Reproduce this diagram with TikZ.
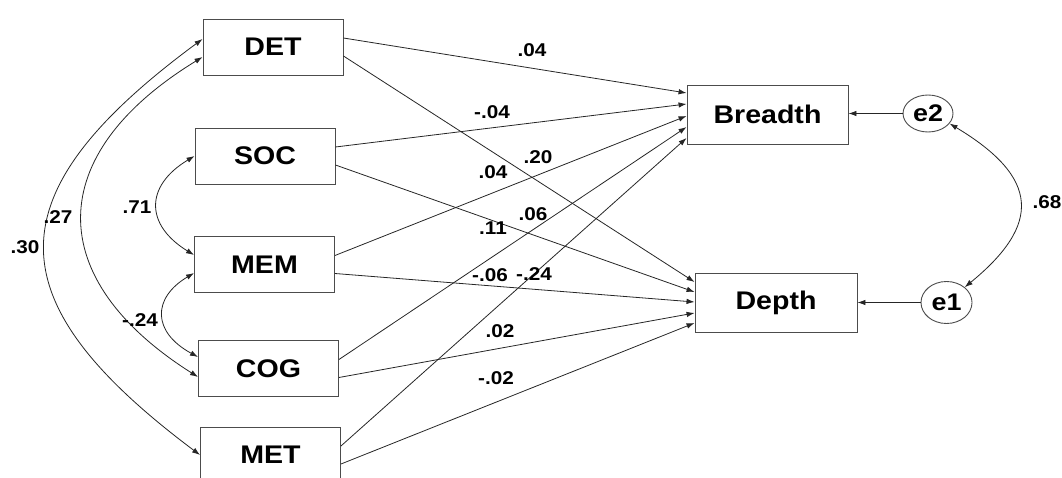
\documentclass[tikz,border=0pt]{standalone}
\usepackage{fontspec}
\setmainfont{Liberation Sans}[FakeStretch=1.12]
\usetikzlibrary{arrows.meta,shapes.geometric}

\tikzset{
  var/.style={draw=black!70,line width=0.9pt,minimum width=140,minimum height=56,inner sep=0pt,
    font=\fontsize{25.5}{28}\selectfont\bfseries},
  err/.style={draw=black!70,line width=0.9pt,ellipse,inner sep=0pt,
    font=\fontsize{24}{26}\selectfont\bfseries},
  reg/.style={draw=black!85,line width=0.8pt,-{Latex[length=8pt,width=5.5pt]}},
  cov/.style={draw=black!85,line width=0.8pt,{Latex[length=8pt,width=5.5pt]}-{Latex[length=8pt,width=5.5pt]}},
  coef/.style={font=\fontsize{18.5}{20}\selectfont\bfseries,inner sep=1pt}
}

\begin{document}
\begin{tikzpicture}[x=1pt,y=-1pt]
  \useasboundingbox (0,0) rectangle (1062,478);
  % predictors
  \node[var] (det) at (273,47) {DET};
  \node[var] (soc) at (265,156) {SOC};
  \node[var] (mem) at (264.5,264.5) {MEM};
  \node[var] (cog) at (268.5,368.5) {COG};
  \node[var] (met) at (270.5,455) {MET};
  % outcomes and errors
  \node[var,minimum width=161,minimum height=59] (breadth) at (767.5,114.5) {Breadth};
  \node[var,minimum width=162,minimum height=59] (depth) at (776,302.5) {Depth};
  \node[err,minimum width=50,minimum height=37] (e2) at (928,113.5) {e2};
  \node[err,minimum width=51,minimum height=42] (e1) at (946.5,302.5) {e1};

  % paths
  \foreach \v/\b/\d in {det/21.5/20.5, soc/10.5/10.5, mem/-1.5/0.5, cog/-12.5/-10.5, met/-23.5/-20.5}{
    \draw[reg] ([yshift=9pt]\v.east) -- ([yshift=\b pt]breadth.west);
    \draw[reg] ([yshift=-9pt]\v.east) -- ([yshift=\d pt]depth.west);
  }
  \draw[reg] (e2.west) -- (e2.west -| breadth.east);
  \draw[reg] (e1.west) -- (e1.west -| depth.east);

  % correlations
  \draw[cov] ([yshift=8pt]det.west) .. controls +(-210,155) and +(-207,-155) .. (met.west);
  \draw[cov] ([yshift=-10pt]det.west) .. controls +(-160,98) and +(-155,-98) .. ([yshift=-8.5pt]cog.west);
  \draw[cov] (soc.west) .. controls +(-50,30) and +(-49,-30) .. ([yshift=9.5pt]mem.west);
  \draw[cov] ([yshift=-8.5pt]mem.west) .. controls +(-42,25) and +(-46,-25) .. ([yshift=11.5pt]cog.west);
  \draw[cov] (e2.-25) .. controls +(90,54) and +(77,-63) .. (e1.40);

  % coefficients
  \node[coef] (cdb) at (532,50) {.04};
  \node[coef] (csb) at (492,112) {-.04};
  \node[coef] (cdd) at (538,157) {.20};
  \node[coef] (cmb) at (493,172) {.04};
  \node[coef] (ccb) at (533,214) {.06};
  \node[coef] (csd) at (493,228) {.11};
  \node[coef] (cmd) at (490,275) {-.06};
  \node[coef] (ctb) at (534,274) {-.24};
  \node[coef] (ccd) at (500,331) {.02};
  \node[coef] (ctd) at (496,378) {-.02};
  \node[coef] (rsm) at (137,207) {.71};
  \node[coef] (rdc) at (58,217) {.27};
  \node[coef] (rdt) at (25,247) {.30};
  \node[coef] (rmc) at (140,320) {-.24};
  \node[coef] (ree) at (1047,202) {.68};
\end{tikzpicture}
\end{document}
